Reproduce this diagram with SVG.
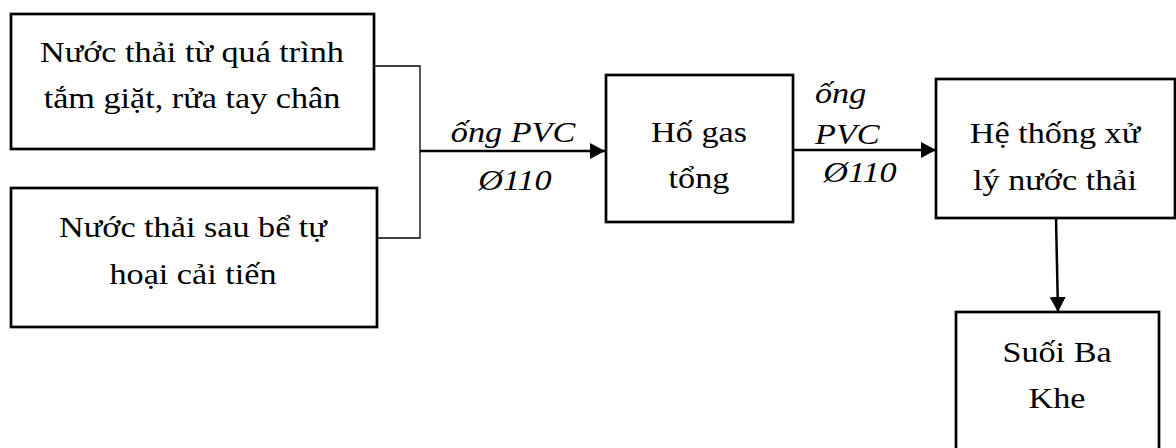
<svg xmlns="http://www.w3.org/2000/svg" width="1176" height="448" viewBox="0 0 1176 448" font-family="'Liberation Serif', serif">
<defs>
<style>
.box{fill:#fff;stroke:#000;stroke-width:2.7}
.t{font-size:28.5px;fill:#000;text-anchor:middle}
.i{font-style:italic}
.s{text-anchor:start}
.c{fill:none;stroke:#000;stroke-width:2.5}
.thin{fill:none;stroke:#000;stroke-width:1.3}
</style>
<marker id="ah" markerWidth="16" markerHeight="16" refX="15" refY="8" orient="auto" markerUnits="userSpaceOnUse">
<path d="M0,0 L15,8 L0,16 Z" fill="#000"/>
</marker>
</defs>
<rect width="1176" height="448" fill="#fff"/>
<g id="connectors">
<path class="thin" d="M375,66 H420 V238 H377"/>
<line class="c" x1="420" y1="151" x2="605" y2="151" marker-end="url(#ah)"/>
<line class="c" x1="793" y1="150" x2="936" y2="150" marker-end="url(#ah)"/>
<line class="c" x1="1056" y1="218" x2="1058" y2="312" marker-end="url(#ah)"/>
<text class="t i" transform="matrix(1.2 0 0 1 513 142)" font-family="'Liberation Serif', serif">ống PVC</text>
<text class="t i" transform="matrix(1.2 0 0 1 515 190)" font-family="'Liberation Serif', serif">Ø110</text>
<text class="t i s" transform="matrix(1.2 0 0 1 815 103)" font-family="'Liberation Serif', serif">ống</text>
<text class="t i s" transform="matrix(1.2 0 0 1 815 144)" font-family="'Liberation Serif', serif">PVC</text>
<text class="t i" transform="matrix(1.2 0 0 1 860 182)" font-family="'Liberation Serif', serif">Ø110</text>
</g>
<g id="n1" font-family="'Liberation Serif', serif">
<rect class="box" x="11" y="14" width="363" height="135"/>
<text class="t" transform="matrix(1.2 0 0 1 192 62)">Nước thải từ quá trình</text>
<text class="t" transform="matrix(1.2 0 0 1 192 108)">tắm giặt, rửa tay chân</text>
</g>
<g id="n2" font-family="'Liberation Serif', serif">
<rect class="box" x="11" y="188" width="366" height="139"/>
<text class="t" transform="matrix(1.2 0 0 1 193 237)">Nước thải sau bể tự</text>
<text class="t" transform="matrix(1.2 0 0 1 193 284)">hoại cải tiến</text>
</g>
<g id="n3" font-family="'Liberation Serif', serif">
<rect class="box" x="606" y="75" width="187" height="147"/>
<text class="t" transform="matrix(1.2 0 0 1 699 142)">Hố gas</text>
<text class="t" transform="matrix(1.2 0 0 1 699 188)">tổng</text>
</g>
<g id="n4" font-family="'Liberation Serif', serif">
<rect class="box" x="936" y="79" width="239" height="139"/>
<text class="t" transform="matrix(1.2 0 0 1 1055 143)">Hệ thống xử</text>
<text class="t" transform="matrix(1.2 0 0 1 1055 190)">lý nước thải</text>
</g>
<g id="n5" font-family="'Liberation Serif', serif">
<rect class="box" x="956" y="312" width="203" height="150"/>
<text class="t" transform="matrix(1.2 0 0 1 1057 362)">Suối Ba</text>
<text class="t" transform="matrix(1.2 0 0 1 1057 408)">Khe</text>
</g>
</svg>
